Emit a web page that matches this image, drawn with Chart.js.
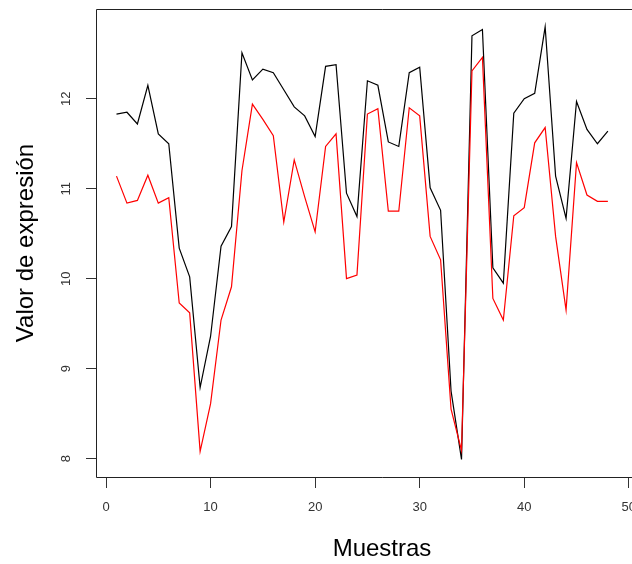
<!DOCTYPE html>
<html>
<head>
<meta charset="utf-8">
<script src="https://cdn.jsdelivr.net/npm/chart.js@4/dist/chart.umd.min.js"></script>
<style>
  html, body { margin: 0; padding: 0; overflow: hidden; background: #fff; }
  canvas { display: block; }
</style>
</head>
<body>
<canvas id="myLineChart" width="668" height="564"></canvas>
<script>
const muestras = [1, 2, 3, 4, 5, 6, 7, 8, 9, 10, 11, 12, 13, 14, 15, 16, 17, 18, 19, 20, 21, 22, 23, 24,
  25, 26, 27, 28, 29, 30, 31, 32, 33, 34, 35, 36, 37, 38, 39, 40, 41, 42, 43, 44, 45, 46, 47, 48];

const serieNegra = [11.83, 11.85, 11.72, 12.15, 11.61, 11.50, 10.34, 10.02, 8.79, 9.36, 10.36, 10.58,
  12.51, 12.21, 12.33, 12.29, 12.10, 11.91, 11.81, 11.58, 12.36, 12.38, 10.95, 10.69,
  12.20, 12.15, 11.52, 11.47, 12.29, 12.35, 11.01, 10.76, 8.75, 7.99, 12.70, 12.77,
  10.12, 9.95, 11.84, 12.00, 12.06, 12.80, 11.14, 10.67, 11.97, 11.66, 11.50, 11.64];

const serieRoja = [11.14, 10.84, 10.87, 11.15, 10.84, 10.90, 9.73, 9.62, 8.08, 8.61, 9.54, 9.91,
  11.20, 11.94, 11.77, 11.59, 10.63, 11.32, 10.91, 10.52, 11.47, 11.61, 10.00, 10.04,
  11.83, 11.89, 10.75, 10.75, 11.90, 11.81, 10.47, 10.21, 8.55, 8.09, 12.31, 12.46,
  9.78, 9.54, 10.70, 10.79, 11.51, 11.68, 10.47, 9.65, 11.29, 10.93, 10.86, 10.86];

const ticksX = [0, 10, 20, 30, 40, 50];
const ticksY = [8, 9, 10, 11, 12];

const toPoints = (serie) => muestras.map((m, i) => ({ x: m, y: serie[i] }));

// R-style box (left, top, bottom; right side is off screen)
const frameBox = {
  id: 'frameBox',
  afterDraw(chart) {
    const { ctx, chartArea: a } = chart;
    ctx.save();
    ctx.strokeStyle = '#222';
    ctx.lineWidth = 1;
    ctx.beginPath();
    ctx.moveTo(a.right + 5, a.top + 0.5);
    ctx.lineTo(a.left + 0.5, a.top + 0.5);
    ctx.lineTo(a.left + 0.5, a.bottom + 0.5);
    ctx.lineTo(a.right + 5, a.bottom + 0.5);
    ctx.stroke();
    ctx.restore();
  }
};

const tickFont = { size: 13, family: "'Liberation Sans', Arial, sans-serif" };
const titleFont = { size: 24, family: "'Liberation Sans', Arial, sans-serif" };

const ctx1 = document.getElementById("myLineChart");

new Chart(ctx1, {
  type: "line",
  data: {
    datasets: [
      {
        label: "rojo",
        data: toPoints(serieRoja),
        borderColor: "#ff0000",
        borderWidth: 1.2,
        pointRadius: 0,
        tension: 0,
        fill: false,
        order: 0,
      },
      {
        label: "negro",
        data: toPoints(serieNegra),
        borderColor: "#000000",
        borderWidth: 1.2,
        pointRadius: 0,
        tension: 0,
        fill: false,
        order: 1,
      },
    ],
  },
  plugins: [frameBox],
  options: {
    responsive: false,
    animation: false,
    layout: { padding: { top: 9, right: 0, left: 0, bottom: 0 } },
    plugins: {
      legend: { display: false },
      tooltip: { enabled: false },
    },
    scales: {
      x: {
        type: "linear",
        min: -0.96,
        max: 53.75,
        afterBuildTicks: (scale) => { scale.ticks = ticksX.map(v => ({ value: v })); },
        afterFit: (scale) => { scale.height = 87; scale.paddingLeft = 0; scale.paddingRight = 0; },
        border: { display: false },
        grid: { drawOnChartArea: false, drawTicks: true, tickLength: 11, color: "#333", tickColor: "#333" },
        ticks: { font: tickFont, color: "#333", padding: 12, maxRotation: 0, autoSkip: false },
        title: { display: true, text: "Muestras", font: titleFont, color: "#000", padding: { top: 0, bottom: 0 } },
      },
      y: {
        type: "linear",
        min: 7.795,
        max: 12.998,
        afterBuildTicks: (scale) => { scale.ticks = ticksY.map(v => ({ value: v })); },
        afterFit: (scale) => { scale.width = 96; scale.paddingTop = 0; scale.paddingBottom = 0; },
        border: { display: false },
        grid: { drawOnChartArea: false, drawTicks: true, tickLength: 10, color: "#333", tickColor: "#333" },
        ticks: { font: tickFont, color: "#333", padding: 12, minRotation: 90, maxRotation: 90, crossAlign: "center" },
        title: { display: true, text: "Valor de expresión", font: titleFont, color: "#000", padding: { top: 12, bottom: 0 } },
      },
    },
  },
});
</script>
</body>
</html>
